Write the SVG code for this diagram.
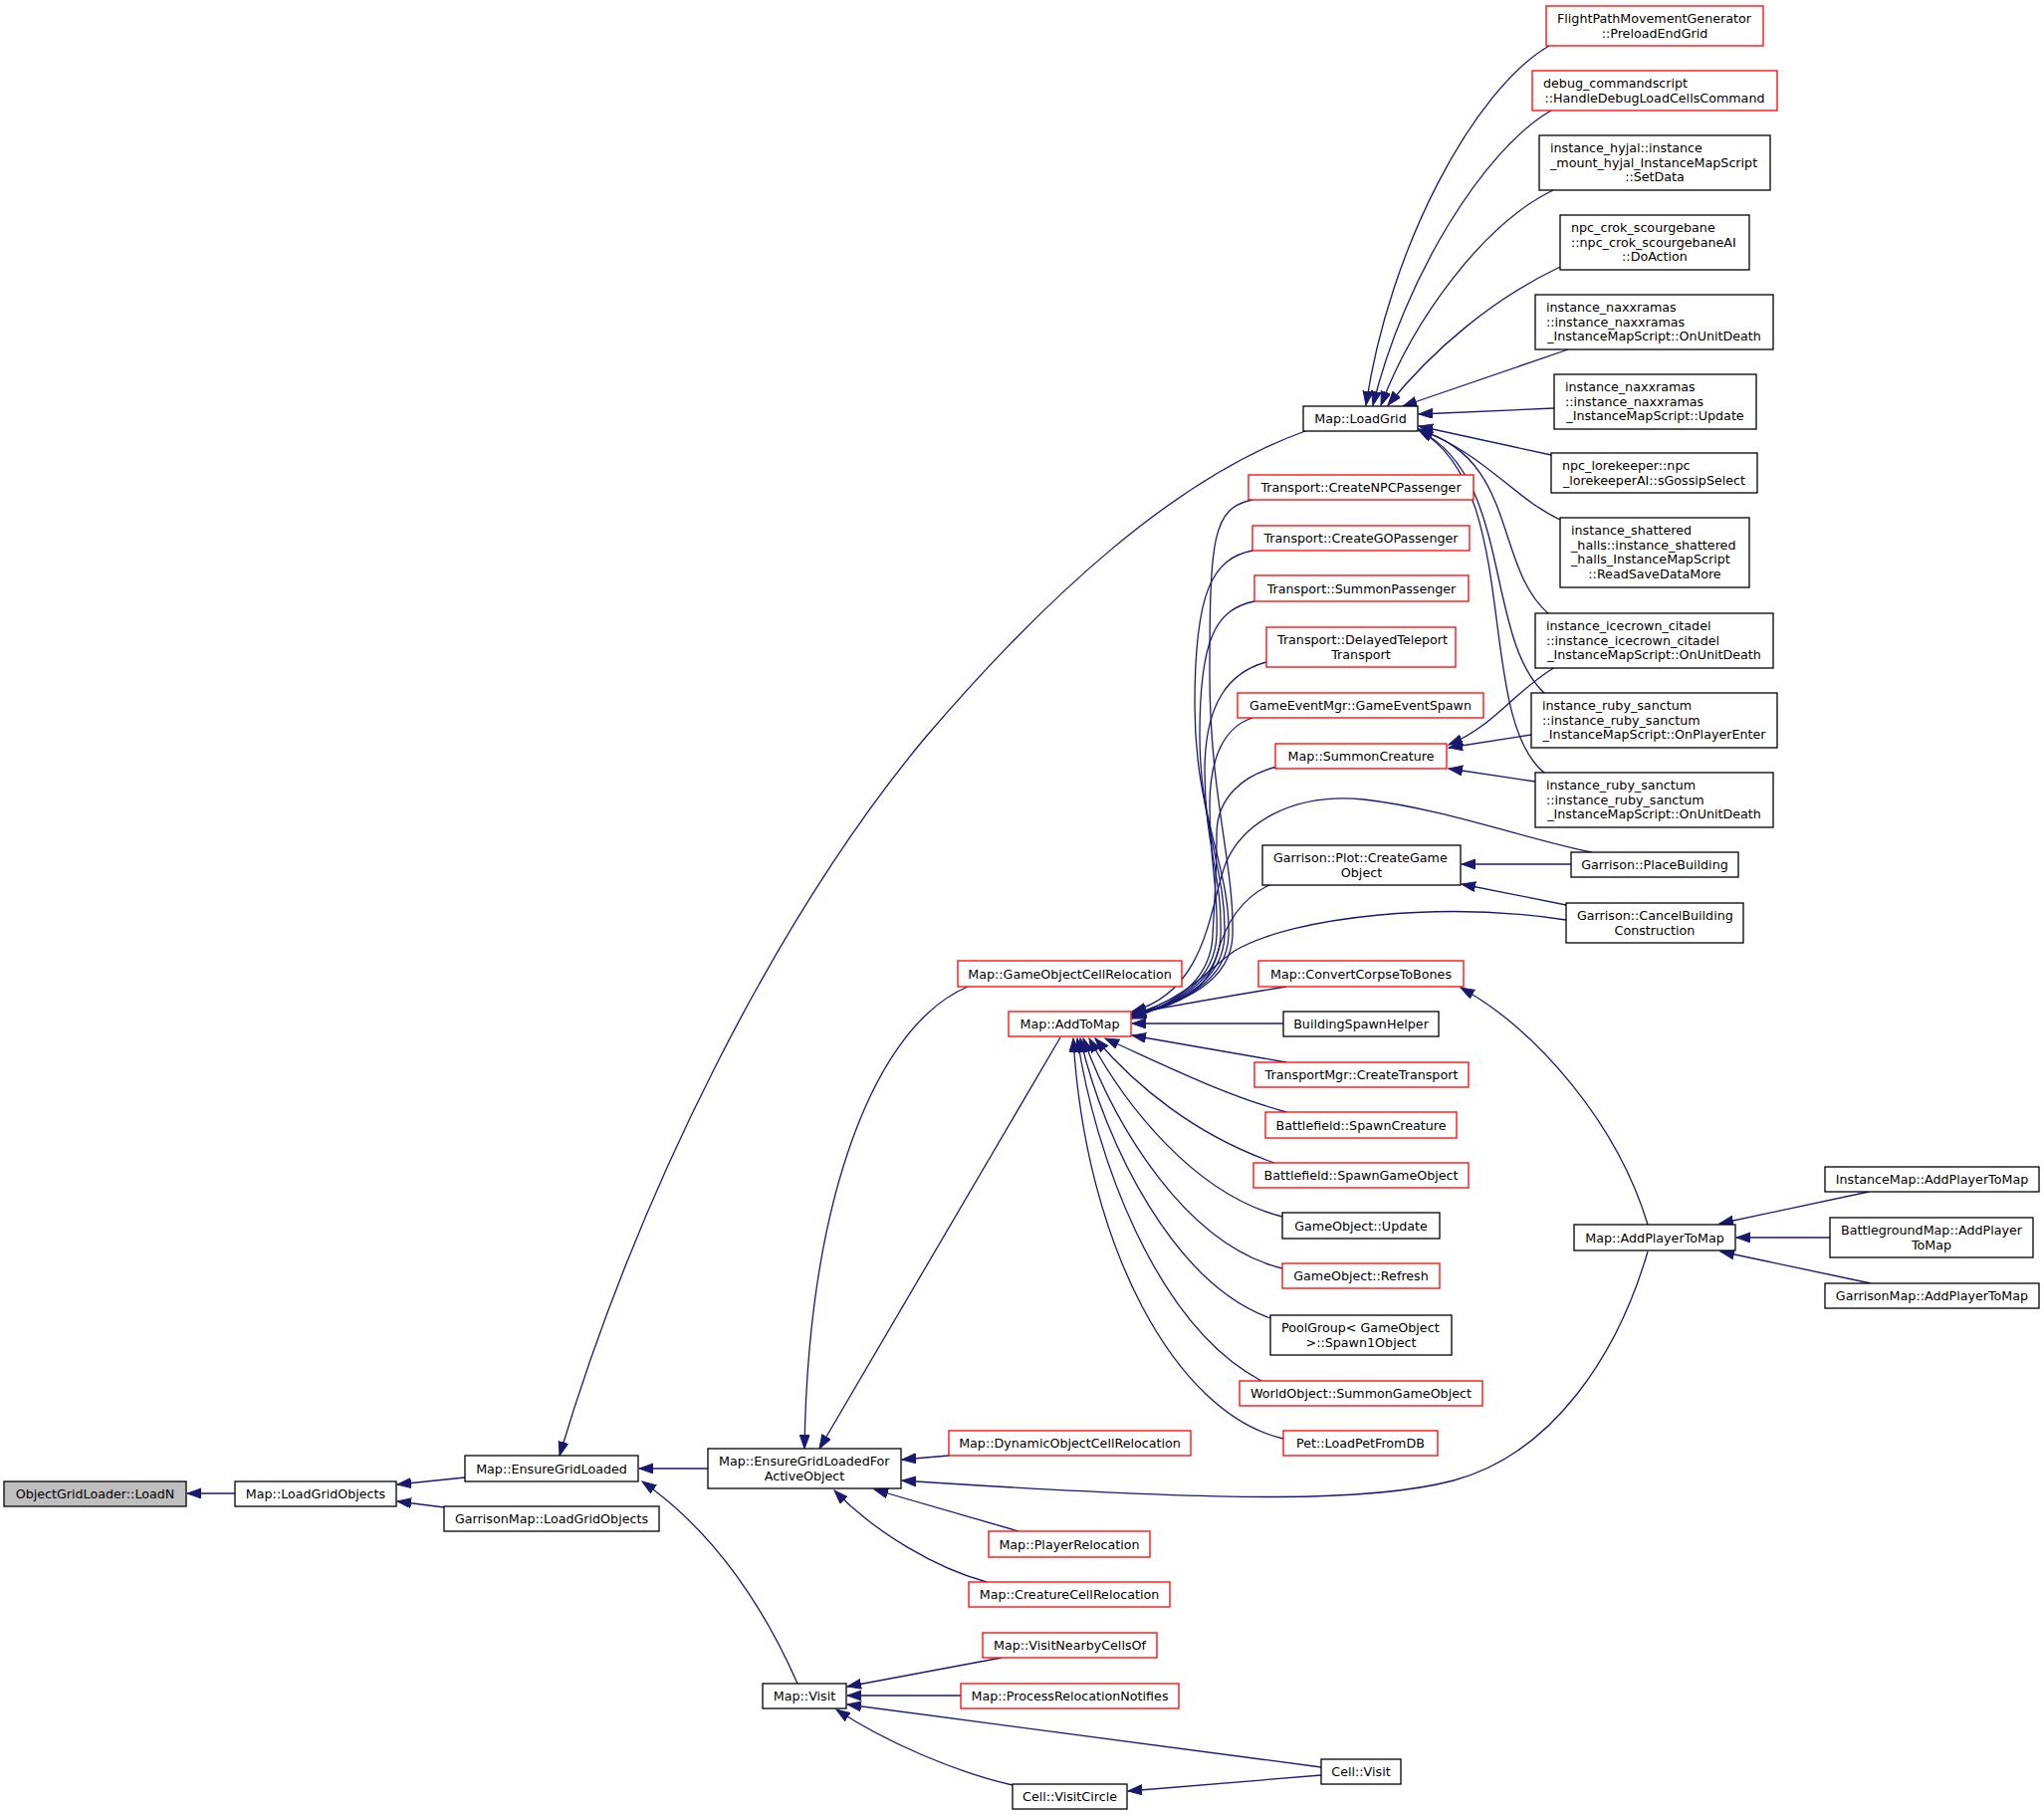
<svg xmlns="http://www.w3.org/2000/svg" width="2053" height="1823" viewBox="0 0 2053 1823">
<defs>
<marker id="ah" markerUnits="userSpaceOnUse" markerWidth="16" markerHeight="12" refX="14" refY="5" orient="auto">
<path d="M0,0 L14,5 L0,10 Z" fill="#191970" stroke="#191970" stroke-width="1"/>
</marker>
</defs>
<style>
rect{fill:#ffffff;stroke:#000000;stroke-width:1.3}
.r rect{stroke:#ff0000}
.g rect{fill:#bfbfbf}
text{font-family:"DejaVu Sans","Liberation Sans",sans-serif;font-size:12.7px;fill:#000000}
.c{text-anchor:middle}
.l{text-anchor:start}
#edges path{fill:none;stroke:#191970;stroke-width:1.3;marker-end:url(#ah)}
</style>
<rect x="0" y="0" width="2053" height="1823" style="fill:#ffffff;stroke:none"/>
<g id="edges">
<path d="M236,1500 L188,1500"/>
<path d="M467,1484 L399,1491"/>
<path d="M446,1514 L399,1508"/>
<path d="M1311,433 C1180,480 1050,600 930,740 C780,920 640,1200 562,1462"/>
<path d="M711,1475 L642,1475"/>
<path d="M801,1691 C770,1620 720,1540 645,1488"/>
<path d="M972,991 C880,1030 812,1200 808,1455"/>
<path d="M1065,1042 L823,1455"/>
<path d="M953,1462 L906,1466"/>
<path d="M1655,1257 C1625,1360 1560,1460 1460,1487 C1380,1508 1250,1510 906,1487"/>
<path d="M1023,1538 L878,1496"/>
<path d="M991,1589 C940,1575 880,1540 838,1497"/>
<path d="M1006,1665 L851,1694"/>
<path d="M965,1703 L851,1703"/>
<path d="M1327,1775 L851,1712"/>
<path d="M1017,1793 C960,1780 890,1750 840,1717"/>
<path d="M1327,1783 L1133,1799"/>
<path d="M1556,46 C1480,90 1395,250 1372,407"/>
<path d="M1558,111 C1490,150 1410,280 1379,407"/>
<path d="M1560,191 C1490,225 1420,320 1387,407"/>
<path d="M1567,268 C1500,300 1440,350 1394,407"/>
<path d="M1575,351 L1409,408"/>
<path d="M1561,410 L1425,416"/>
<path d="M1558,457 L1425,428"/>
<path d="M1567,522 C1520,500 1490,455 1425,431"/>
<path d="M1556,617 C1500,570 1525,460 1425,432"/>
<path d="M1552,697 C1490,640 1520,480 1425,432"/>
<path d="M1552,777 C1480,720 1530,490 1425,432"/>
<path d="M1562,670 C1520,695 1500,730 1455,748"/>
<path d="M1538,738 L1455,751"/>
<path d="M1542,785 L1455,772"/>
<path d="M1578,868 L1468,868"/>
<path d="M1573,909 L1468,888"/>
<path d="M1599,856 C1540,845 1450,812 1370,803 C1300,796 1250,825 1232,865 C1215,905 1215,995 1137,1016"/>
<path d="M1573,924 C1450,905 1300,920 1240,955 C1215,972 1190,1005 1137,1019"/>
<path d="M1277,888 C1245,902 1230,930 1222,960 C1212,995 1185,1010 1137,1020"/>
<path d="M1258,502 C1218,510 1215,540 1215,677 C1215,800 1240,870 1238,940 C1236,985 1190,1008 1137,1018"/>
<path d="M1258,553 C1218,561 1200,593 1200,708 C1200,820 1236,870 1234,940 C1232,985 1188,1008 1137,1019"/>
<path d="M1260,604 C1220,612 1205,644 1205,738 C1205,830 1232,875 1230,940 C1228,985 1186,1008 1137,1020"/>
<path d="M1272,665 C1235,675 1210,705 1210,775 C1210,850 1228,880 1226,940 C1224,985 1184,1008 1137,1021"/>
<path d="M1258,721 C1230,730 1215,760 1215,809 C1215,870 1224,890 1222,940 C1220,985 1182,1008 1137,1022"/>
<path d="M1283,770 C1250,778 1222,800 1222,838 C1222,880 1220,900 1218,940 C1216,985 1180,1008 1137,1023"/>
<path d="M1292,991 C1230,1001 1180,1010 1137,1018"/>
<path d="M1289,1028 L1137,1028"/>
<path d="M1292,1067 L1137,1040"/>
<path d="M1292,1117 C1230,1100 1170,1070 1110,1043"/>
<path d="M1280,1168 C1200,1140 1140,1090 1100,1043"/>
<path d="M1288,1222 C1200,1200 1130,1110 1094,1043"/>
<path d="M1288,1274 C1190,1250 1120,1130 1088,1043"/>
<path d="M1276,1324 C1180,1290 1110,1150 1085,1043"/>
<path d="M1267,1387 C1160,1330 1100,1160 1082,1043"/>
<path d="M1289,1445 C1180,1420 1090,1250 1078,1043"/>
<path d="M1655,1230 C1625,1130 1545,1035 1467,992"/>
<path d="M1877,1197 L1727,1229"/>
<path d="M1838,1243 L1744,1243"/>
<path d="M1879,1289 L1728,1257"/>
</g>
<g id="n1" class="g"><rect x="4" y="1488" width="183" height="25"/><text class="c" x="95.5" y="1505">ObjectGridLoader::LoadN</text></g>
<g id="n2"><rect x="236" y="1488" width="162" height="25"/><text class="c" x="317" y="1505">Map::LoadGridObjects</text></g>
<g id="n3"><rect x="467" y="1462" width="174" height="26"/><text class="c" x="554" y="1479.5">Map::EnsureGridLoaded</text></g>
<g id="n4"><rect x="446" y="1513" width="216" height="25"/><text class="c" x="554" y="1530">GarrisonMap::LoadGridObjects</text></g>
<g id="n5"><rect x="1309" y="408" width="115" height="25"/><text class="c" x="1366.5" y="425">Map::LoadGrid</text></g>
<g id="n6"><rect x="711" y="1455" width="194" height="40"/><text class="l" x="722" y="1471.8">Map::EnsureGridLoadedFor</text><text class="c" x="808" y="1486.5">ActiveObject</text></g>
<g id="n7"><rect x="766" y="1691" width="84" height="25"/><text class="c" x="808" y="1708">Map::Visit</text></g>
<g id="n8" class="r"><rect x="1553" y="6" width="218" height="40"/><text class="l" x="1564" y="22.8">FlightPathMovementGenerator</text><text class="c" x="1662" y="37.5">::PreloadEndGrid</text></g>
<g id="n9" class="r"><rect x="1539" y="71" width="246" height="40"/><text class="l" x="1550" y="87.8">debug_commandscript</text><text class="c" x="1662" y="102.5">::HandleDebugLoadCellsCommand</text></g>
<g id="n10"><rect x="1546" y="136" width="232" height="55"/><text class="l" x="1557" y="152.8">instance_hyjal::instance</text><text class="l" x="1557" y="167.5">_mount_hyjal_InstanceMapScript</text><text class="c" x="1662" y="182.2">::SetData</text></g>
<g id="n11"><rect x="1567" y="216" width="190" height="55"/><text class="l" x="1578" y="232.8">npc_crok_scourgebane</text><text class="l" x="1578" y="247.5">::npc_crok_scourgebaneAI</text><text class="c" x="1662" y="262.2">::DoAction</text></g>
<g id="n12"><rect x="1542" y="296" width="239" height="55"/><text class="l" x="1553" y="312.8">instance_naxxramas</text><text class="l" x="1553" y="327.5">::instance_naxxramas</text><text class="c" x="1661.5" y="342.2">_InstanceMapScript::OnUnitDeath</text></g>
<g id="n13"><rect x="1561" y="376" width="203" height="55"/><text class="l" x="1572" y="392.8">instance_naxxramas</text><text class="l" x="1572" y="407.5">::instance_naxxramas</text><text class="c" x="1662.5" y="422.2">_InstanceMapScript::Update</text></g>
<g id="n14"><rect x="1558" y="455" width="207" height="40"/><text class="l" x="1569" y="471.8">npc_lorekeeper::npc</text><text class="c" x="1661.5" y="486.5">_lorekeeperAI::sGossipSelect</text></g>
<g id="n15"><rect x="1567" y="520" width="190" height="70"/><text class="l" x="1578" y="536.8">instance_shattered</text><text class="l" x="1578" y="551.5">_halls::instance_shattered</text><text class="l" x="1578" y="566.2">_halls_InstanceMapScript</text><text class="c" x="1662" y="580.9">::ReadSaveDataMore</text></g>
<g id="n16"><rect x="1542" y="616" width="239" height="55"/><text class="l" x="1553" y="632.8">instance_icecrown_citadel</text><text class="l" x="1553" y="647.5">::instance_icecrown_citadel</text><text class="c" x="1661.5" y="662.2">_InstanceMapScript::OnUnitDeath</text></g>
<g id="n17"><rect x="1538" y="696" width="247" height="55"/><text class="l" x="1549" y="712.8">instance_ruby_sanctum</text><text class="l" x="1549" y="727.5">::instance_ruby_sanctum</text><text class="c" x="1661.5" y="742.2">_InstanceMapScript::OnPlayerEnter</text></g>
<g id="n18"><rect x="1542" y="776" width="239" height="55"/><text class="l" x="1553" y="792.8">instance_ruby_sanctum</text><text class="l" x="1553" y="807.5">::instance_ruby_sanctum</text><text class="c" x="1661.5" y="822.2">_InstanceMapScript::OnUnitDeath</text></g>
<g id="n19"><rect x="1578" y="856" width="168" height="25"/><text class="c" x="1662" y="873">Garrison::PlaceBuilding</text></g>
<g id="n20"><rect x="1573" y="907" width="178" height="40"/><text class="l" x="1584" y="923.8">Garrison::CancelBuilding</text><text class="c" x="1662" y="938.5">Construction</text></g>
<g id="n21" class="r"><rect x="1254" y="477" width="226" height="25"/><text class="c" x="1367" y="494">Transport::CreateNPCPassenger</text></g>
<g id="n22" class="r"><rect x="1258" y="528" width="218" height="25"/><text class="c" x="1367" y="545">Transport::CreateGOPassenger</text></g>
<g id="n23" class="r"><rect x="1260" y="578" width="215" height="26"/><text class="c" x="1367.5" y="595.5">Transport::SummonPassenger</text></g>
<g id="n24" class="r"><rect x="1272" y="630" width="190" height="40"/><text class="l" x="1283" y="646.8">Transport::DelayedTeleport</text><text class="c" x="1367" y="661.5">Transport</text></g>
<g id="n25" class="r"><rect x="1243" y="696" width="247" height="25"/><text class="c" x="1366.5" y="713">GameEventMgr::GameEventSpawn</text></g>
<g id="n26" class="r"><rect x="1281" y="747" width="172" height="25"/><text class="c" x="1367" y="764">Map::SummonCreature</text></g>
<g id="n27"><rect x="1268" y="849" width="199" height="40"/><text class="l" x="1279" y="865.8">Garrison::Plot::CreateGame</text><text class="c" x="1367.5" y="880.5">Object</text></g>
<g id="n28" class="r"><rect x="962" y="965" width="225" height="26"/><text class="c" x="1074.5" y="982.5">Map::GameObjectCellRelocation</text></g>
<g id="n29" class="r"><rect x="1013" y="1016" width="123" height="25"/><text class="c" x="1074.5" y="1033">Map::AddToMap</text></g>
<g id="n30" class="r"><rect x="1264" y="965" width="206" height="26"/><text class="c" x="1367" y="982.5">Map::ConvertCorpseToBones</text></g>
<g id="n31"><rect x="1289" y="1016" width="156" height="25"/><text class="c" x="1367" y="1033">BuildingSpawnHelper</text></g>
<g id="n32" class="r"><rect x="1260" y="1067" width="215" height="25"/><text class="c" x="1367.5" y="1084">TransportMgr::CreateTransport</text></g>
<g id="n33" class="r"><rect x="1271" y="1117" width="192" height="26"/><text class="c" x="1367" y="1134.5">Battlefield::SpawnCreature</text></g>
<g id="n34" class="r"><rect x="1259" y="1168" width="216" height="25"/><text class="c" x="1367" y="1185">Battlefield::SpawnGameObject</text></g>
<g id="n35"><rect x="1288" y="1218" width="158" height="26"/><text class="c" x="1367" y="1235.5">GameObject::Update</text></g>
<g id="n36" class="r"><rect x="1288" y="1269" width="158" height="25"/><text class="c" x="1367" y="1286">GameObject::Refresh</text></g>
<g id="n37"><rect x="1276" y="1321" width="182" height="40"/><text class="l" x="1287" y="1337.8">PoolGroup&lt; GameObject</text><text class="c" x="1367" y="1352.5">&gt;::Spawn1Object</text></g>
<g id="n38" class="r"><rect x="1245" y="1387" width="244" height="25"/><text class="c" x="1367" y="1404">WorldObject::SummonGameObject</text></g>
<g id="n39" class="r"><rect x="1289" y="1437" width="155" height="25"/><text class="c" x="1366.5" y="1454">Pet::LoadPetFromDB</text></g>
<g id="n40" class="r"><rect x="953" y="1437" width="243" height="25"/><text class="c" x="1074.5" y="1454">Map::DynamicObjectCellRelocation</text></g>
<g id="n41" class="r"><rect x="993" y="1538" width="162" height="26"/><text class="c" x="1074" y="1555.5">Map::PlayerRelocation</text></g>
<g id="n42" class="r"><rect x="973" y="1589" width="202" height="25"/><text class="c" x="1074" y="1606">Map::CreatureCellRelocation</text></g>
<g id="n43" class="r"><rect x="987" y="1640" width="175" height="25"/><text class="c" x="1074.5" y="1657">Map::VisitNearbyCellsOf</text></g>
<g id="n44" class="r"><rect x="965" y="1691" width="219" height="25"/><text class="c" x="1074.5" y="1708">Map::ProcessRelocationNotifies</text></g>
<g id="n45"><rect x="1017" y="1792" width="115" height="25"/><text class="c" x="1074.5" y="1809">Cell::VisitCircle</text></g>
<g id="n46"><rect x="1327" y="1767" width="80" height="25"/><text class="c" x="1367" y="1784">Cell::Visit</text></g>
<g id="n47"><rect x="1581" y="1230" width="162" height="26"/><text class="c" x="1662" y="1247.5">Map::AddPlayerToMap</text></g>
<g id="n48"><rect x="1833" y="1172" width="215" height="25"/><text class="c" x="1940.5" y="1189">InstanceMap::AddPlayerToMap</text></g>
<g id="n49"><rect x="1838" y="1223" width="204" height="40"/><text class="l" x="1849" y="1239.8">BattlegroundMap::AddPlayer</text><text class="c" x="1940" y="1254.5">ToMap</text></g>
<g id="n50"><rect x="1833" y="1289" width="215" height="25"/><text class="c" x="1940.5" y="1306">GarrisonMap::AddPlayerToMap</text></g>
</svg>
